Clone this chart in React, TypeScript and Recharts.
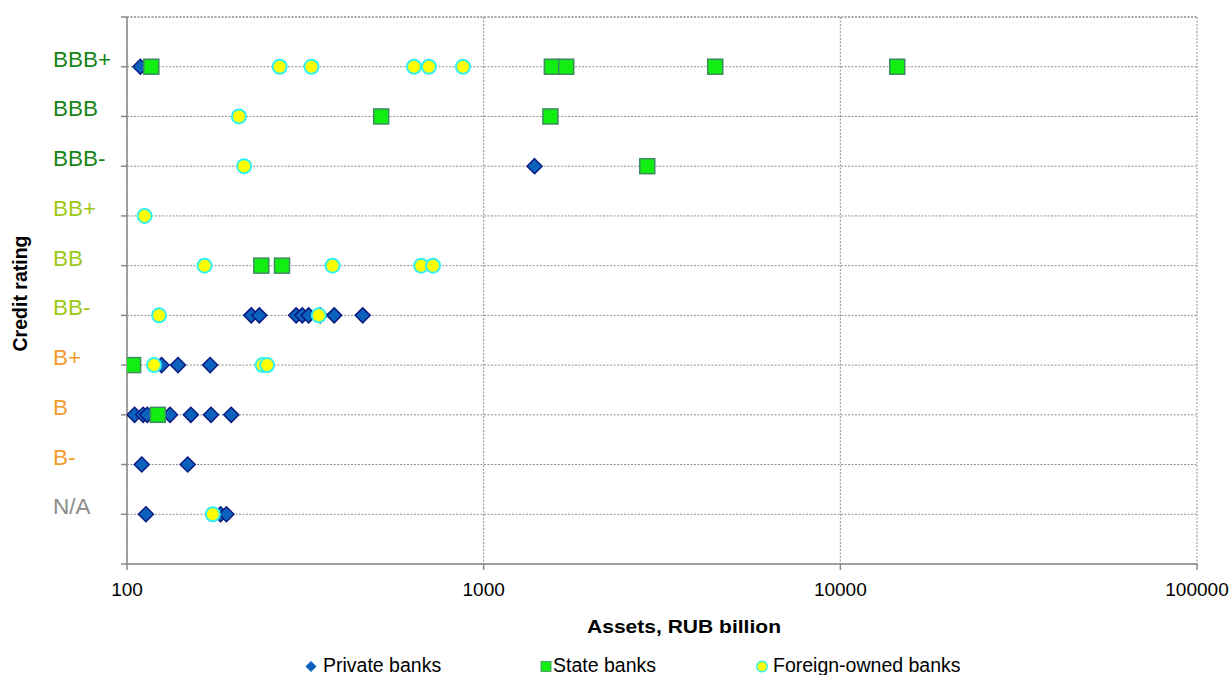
import { ScatterChart, Scatter, XAxis, YAxis, CartesianGrid, ReferenceLine, Legend, Label } from 'recharts';

const FONT = '"Liberation Sans", Arial, sans-serif';

// rating scale, bottom to top
const ratings = ['N/A', 'B-', 'B', 'B+', 'BB-', 'BB', 'BB+', 'BBB-', 'BBB', 'BBB+'];

const assetTicks = [100, 1000, 10000, 100000];

// [rating, assets in RUB bn]
const privateBanks: [string, number][] = [
  ['BBB+', 109],
  ['BBB-', 1389],
  ['BB-', 223], ['BB-', 235], ['BB-', 298], ['BB-', 310], ['BB-', 323], ['BB-', 348], ['BB-', 381], ['BB-', 458],
  ['B+', 125], ['B+', 139], ['B+', 171],
  ['B', 105], ['B', 111], ['B', 114], ['B', 132], ['B', 151], ['B', 172], ['B', 196],
  ['B-', 110], ['B-', 148],
  ['N/A', 113], ['N/A', 183], ['N/A', 190],
];

const stateBanks: [string, number][] = [
  ['BBB+', 117], ['BBB+', 1553], ['BBB+', 1704], ['BBB+', 4459], ['BBB+', 14440],
  ['BBB', 516], ['BBB', 1539],
  ['BBB-', 2875],
  ['BB', 238], ['BB', 272],
  ['B+', 104],
  ['B', 122],
];

const foreignBanks: [string, number][] = [
  ['BBB+', 268], ['BBB+', 329], ['BBB+', 638], ['BBB+', 702], ['BBB+', 875],
  ['BBB', 206],
  ['BBB-', 213],
  ['BB+', 112],
  ['BB', 165], ['BB', 377], ['BB', 668], ['BB', 721],
  ['BB-', 123], ['BB-', 345],
  ['B+', 119], ['B+', 240], ['B+', 247],
  ['N/A', 174],
];

const toPoints = (rows: [string, number][]) =>
  rows.map(([r, a]) => ({ assets: a, level: ratings.indexOf(r) + 1 }));

const levelTicks = [0, ...ratings.map((_, i) => i + 1), ratings.length + 1];

const labelColor = (r: string) => {
  if (r === 'N/A') return '#8c8c8c';
  if (r.startsWith('BBB')) return '#168416';
  if (r.startsWith('BB')) return '#9dc815';
  return '#f59b2d';
};

const Diamond = ({ cx, cy }: any) => (
  <path d={`M${cx},${cy - 7.5}L${cx + 7.5},${cy}L${cx},${cy + 7.5}L${cx - 7.5},${cy}Z`} fill="#0a62bd" stroke="#0a1a80" strokeWidth={1.5} />
);
const Square = ({ cx, cy }: any) => (
  <rect x={cx - 7.5} y={cy - 7.5} width={15} height={15} fill="#12ee12" stroke="#3e8a62" strokeWidth={1.5} />
);
const Dot = ({ cx, cy }: any) => (
  <circle cx={cx} cy={cy} r={7} fill="#ffff00" stroke="#33f0f5" strokeWidth={2} />
);

const RatingTick = ({ y, payload }: any) => {
  const r = ratings[payload.value - 1];
  if (!r) return <g />;
  return (
    <text x={53} y={y} fill={labelColor(r)} fontSize={22.5} fontFamily={FONT}>
      {r}
    </text>
  );
};

const AssetTick = ({ x, y, payload }: any) => (
  <text x={x} y={y + 24} textAnchor="middle" fill="#000" fontSize={19} fontFamily={FONT}>
    {payload.value}
  </text>
);

const XTitle = ({ viewBox }: any) => (
  <text x={viewBox.x + viewBox.width / 2 + 22} y={633} textAnchor="middle" fontSize={18} fontWeight="bold" fontFamily={FONT} textLength={194} lengthAdjust="spacingAndGlyphs">
    Assets, RUB billion
  </text>
);

const YTitle = ({ viewBox }: any) => (
  <text transform={`translate(27, ${viewBox.y + viewBox.height / 2 + 3}) rotate(-90)`} textAnchor="middle" fontSize={19.5} fontWeight="bold" fontFamily={FONT}>
    Credit rating
  </text>
);

const LegendBox = () => (
  <svg width={1232} height={25} style={{ display: 'block' }}>
    <path d="M311,11L316.5,16.5L311,22L305.5,16.5Z" fill="#0a62bd" />
    <text x={323} y={21.5} fontSize={19.5} fontFamily={FONT}>Private banks</text>
    <rect x={541} y={11.5} width={10} height={10} fill="#12ee12" stroke="#3e8a62" strokeWidth={0.8} />
    <text x={553} y={21.5} fontSize={19.5} fontFamily={FONT}>State banks</text>
    <circle cx={762} cy={16.5} r={5.2} fill="#ffff00" stroke="#33f0f5" strokeWidth={1.5} />
    <text x={773} y={21.5} fontSize={19.5} fontFamily={FONT}>Foreign-owned banks</text>
  </svg>
);

export default function App() {
  return (
    <div style={{ position: 'fixed', left: 0, top: 0, width: 1232, height: 675, overflow: 'hidden', background: '#fff' }}>
      <ScatterChart width={1232} height={675} margin={{ top: 17, right: 35, bottom: 51, left: 0 }}>
        <CartesianGrid stroke="#8f8f8f" strokeDasharray="2 1.5" />
        <XAxis
          dataKey="assets"
          type="number"
          scale="log"
          domain={[100, 100000]}
          ticks={assetTicks}
          allowDataOverflow
          height={60}
          stroke="#8a8a8a"
          strokeWidth={1.5}
          tickSize={6}
          tick={<AssetTick />}
        >
          <Label content={<XTitle />} />
        </XAxis>
        <YAxis
          dataKey="level"
          type="number"
          domain={[0, ratings.length + 1]}
          ticks={levelTicks}
          interval={0}
          width={127}
          stroke="#8a8a8a"
          strokeWidth={1.5}
          tickSize={6}
          tick={<RatingTick />}
        >
          <Label content={<YTitle />} />
        </YAxis>
        <ReferenceLine y={ratings.length + 1} stroke="#8f8f8f" strokeDasharray="2 1.5" />
        <Legend layout="horizontal" verticalAlign="middle" align="center" content={<LegendBox />} wrapperStyle={{ top: 650, left: 0, width: 1232, height: 25, margin: 0 }} />
        <Scatter name="Private banks" data={toPoints(privateBanks)} shape={<Diamond />} isAnimationActive={false} />
        <Scatter name="State banks" data={toPoints(stateBanks)} shape={<Square />} isAnimationActive={false} />
        <Scatter name="Foreign-owned banks" data={toPoints(foreignBanks)} shape={<Dot />} isAnimationActive={false} />
      </ScatterChart>
    </div>
  );
}
